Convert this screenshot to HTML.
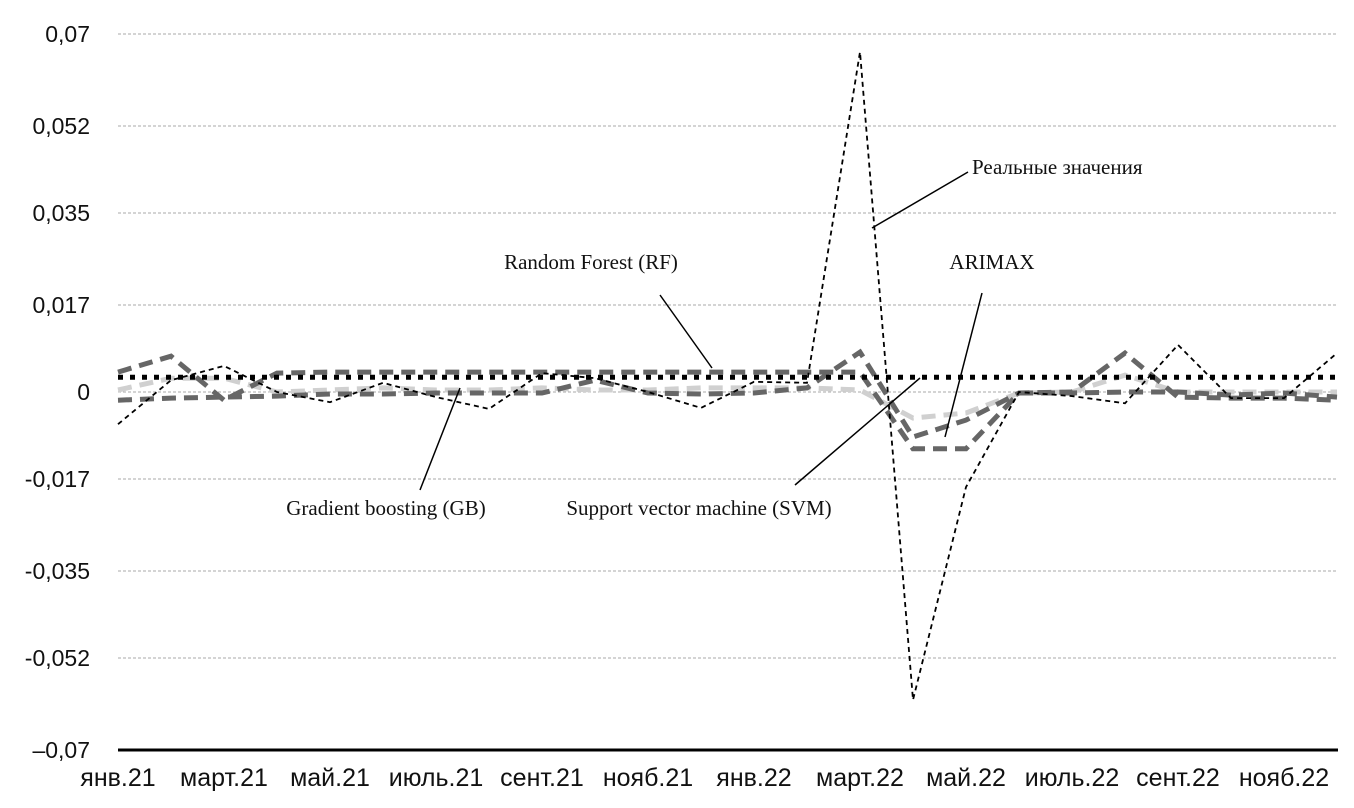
<!DOCTYPE html>
<html><head><meta charset="utf-8"><style>
body{margin:0;background:#fff;}
svg{display:block;}
.yl{font-family:"Liberation Sans",sans-serif;font-size:23px;fill:#111;}
.xl{font-family:"Liberation Sans",sans-serif;font-size:25px;fill:#111;}
.an{font-family:"Liberation Serif",serif;font-size:21px;fill:#111;}
</style></head><body>
<svg id="chart" width="1354" height="808">
<g id="grid"></g><g id="series"></g><g id="annot"></g>
</svg>
<script>
const months=['янв.21','фев.21','март.21','апр.21','май.21','июнь.21','июль.21','авг.21','сент.21','окт.21','нояб.21','дек.21','янв.22','фев.22','март.22','апр.22','май.22','июнь.22','июль.22','авг.22','сент.22','окт.22','нояб.22','дек.22'];
const yTicks=[0.07,0.052,0.035,0.017,0,-0.017,-0.035,-0.052,-0.07];
const yTickLabels=['0,07','0,052','0,035','0,017','0','-0,017','-0,035','-0,052','–0,07'];
const realValues=[-0.0063,0.0023,0.0051,0,-0.002,0.0018,-0.001,-0.0033,0.0037,0.0027,0,-0.0031,0.002,0.0018,0.0665,-0.0602,-0.0186,0,-0.0008,-0.0022,0.0092,-0.0012,-0.0012,0.0076];
const rfValues=[0.0039,0.007,-0.0016,0.0037,0.0039,0.0039,0.0039,0.0039,0.0039,0.0039,0.0039,0.0039,0.0039,0.0039,0.0039,-0.0111,-0.0111,-0.0002,-0.0002,0,0,-0.0006,-0.0002,-0.001];
const svmValues=[-0.0016,-0.0012,-0.001,-0.0008,-0.0004,-0.0004,-0.0002,-0.0002,-0.0002,0.0023,-0.0002,-0.0004,-0.0002,0.0008,0.0078,-0.0088,-0.0055,-0.0002,0,0.0076,-0.001,-0.0012,-0.0012,-0.0016];
const gbValues=[0.0004,0.0027,0.0027,0,0.0004,0.0008,0.0004,0.0004,0.0008,0.0004,0.0004,0.0008,0.0008,0.0008,0.0004,-0.0051,-0.0041,-0.0002,0,0.0033,0,0,0,0];
const baseValues=[0.0029,0.0029,0.0029,0.0029,0.0029,0.0029,0.0029,0.0029,0.0029,0.0029,0.0029,0.0029,0.0029,0.0029,0.0029,0.0029,0.0029,0.0029,0.0029,0.0029,0.0029,0.0029,0.0029,0.0029];

const NS='http://www.w3.org/2000/svg';
const X0=118,X1=1337,Y0=392,SC=716/0.14;
const xs=i=>X0+i*(X1-X0)/(months.length-1);
const ys=v=>Y0-v*SC;
function mk(t,a,p){const e=document.createElementNS(NS,t);for(const k in a)e.setAttribute(k,a[k]);p.appendChild(e);return e;}
const grid=document.getElementById('grid'),ser=document.getElementById('series'),an=document.getElementById('annot');
yTicks.forEach((v,i)=>{
  if(i<yTicks.length-1){const g=mk('line',{x1:118,x2:1338,y1:ys(v),y2:ys(v),stroke:'#aaa','stroke-width':1,'stroke-dasharray':'3,2'},grid);
  
  }
  const t=mk('text',{x:90,y:ys(v)+8,'text-anchor':'end',class:'yl'},grid);t.textContent=yTickLabels[i];
  
  
});
const ax=mk('line',{x1:118,x2:1338,y1:ys(-0.07),y2:ys(-0.07),stroke:'#000','stroke-width':3},grid);


months.forEach((m,i)=>{if(i%2)return;
  const t=mk('text',{x:xs(i),y:786,'text-anchor':'middle',class:'xl'},grid);t.textContent=m;
  
  });
function line(vals,stroke,w,dash,name){
  const d=vals.map((v,i)=>(i?'L':'M')+xs(i).toFixed(1)+','+ys(v).toFixed(1)).join('');
  const p=mk('path',{d,fill:'none',stroke,'stroke-width':w,'stroke-dasharray':dash},ser);
  
  
}
line(gbValues,'#d0d0d0',5,'14,8','series-gradient-boosting');
line(svmValues,'#666',5,'14,8','series-svm');
line(rfValues,'#666',5,'14,8','series-random-forest');
line(baseValues,'#000',5,'5,7','series-baseline');
line(realValues,'#000',1.8,'5,4','series-real-values');
const anns=[['Реальные значения',972,174,'start',872,228,968,172],['Random Forest (RF)',591,269,'middle',660,295,712,368],['ARIMAX',992,269,'middle',982,293,945,437],['Gradient boosting (GB)',386,515,'middle',420,490,460,388],['Support vector machine (SVM)',699,515,'middle',795,485,920,378]];
anns.forEach(a=>{
  const l=mk('line',{x1:a[4],y1:a[5],x2:a[6],y2:a[7],stroke:'#000','stroke-width':1.5},an);
  
  
  const t=mk('text',{x:a[1],y:a[2],'text-anchor':a[3],class:'an'},an);t.textContent=a[0];
  
  
});
</script>
</body></html>
